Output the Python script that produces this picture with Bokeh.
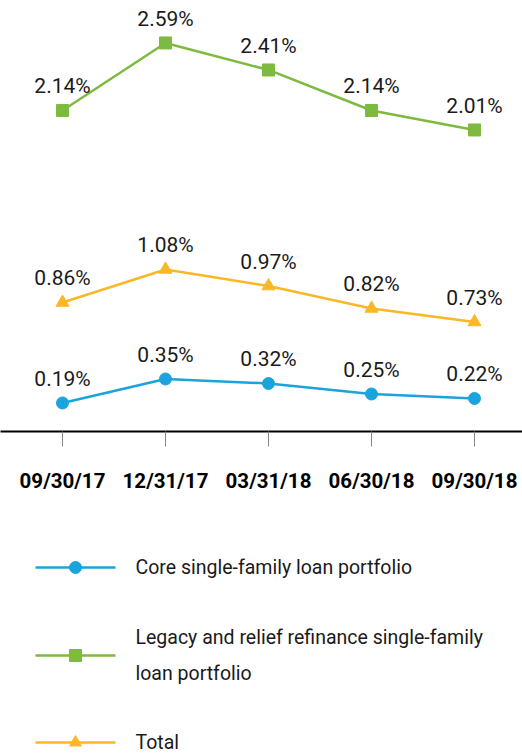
from bokeh.plotting import figure
from bokeh.layouts import column
from bokeh.models import Range1d, FixedTicker
from bokeh.core.properties import value
from bokeh.embed import file_html
from bokeh.resources import INLINE

dates = ["09/30/17", "12/31/17", "03/31/18", "06/30/18", "09/30/18"]
core = [0.19, 0.35, 0.32, 0.25, 0.22]
legacy = [2.14, 2.59, 2.41, 2.14, 2.01]
total = [0.86, 1.08, 0.97, 0.82, 0.73]

series_names = ["Core single-family loan portfolio",
                "Legacy and relief refinance single-family\nloan portfolio",
                "Total"]
colors = ["#1ba3de", "#7dba3f", "#fbb726"]
markers = ["circle", "square", "triangle"]

FONT = "Roboto"
xs = list(range(len(dates)))

p = figure(width=522, height=510, output_backend="svg", toolbar_location=None,
           x_range=Range1d(-0.602, 4.466), y_range=Range1d(0, 2.873),
           min_border_left=0, min_border_right=0, min_border_top=0, min_border_bottom=79)
p.outline_line_color = None
p.xgrid.visible = False
p.ygrid.visible = False
p.yaxis.visible = False
p.background_fill_color = "white"

xa = p.xaxis[0]
xa.ticker = FixedTicker(ticks=xs)
xa.major_label_overrides = {i: d for i, d in enumerate(dates)}
xa.axis_line_color = "black"
xa.axis_line_width = 2
xa.major_tick_line_color = "#888888"
xa.major_tick_line_width = 1
xa.major_tick_in = 0
xa.major_tick_out = 15
xa.minor_tick_line_color = None
xa.major_label_standoff = 22
xa.major_label_text_font = FONT
xa.major_label_text_font_style = "bold"
xa.major_label_text_font_size = "20.5px"
xa.major_label_text_color = "black"

for vals, col, mk in zip([core, legacy, total], colors, markers):
    p.line(xs, vals, line_color=col, line_width=2.5)
    p.scatter(xs, vals, marker=mk, size=12 if mk != "triangle" else 13,
              fill_color=col, line_color=col)
    p.text(xs, vals, text=[f"{v:.2f}%" for v in vals], text_align="center",
           text_baseline="alphabetic", y_offset=-24, text_font=value(FONT),
           text_font_size="21px", text_color="#1a1a1a")

# Legend figure
lg = figure(width=522, height=243, output_backend="svg", toolbar_location=None,
            x_range=Range1d(0, 522), y_range=Range1d(243, 0),
            min_border_left=0, min_border_right=0, min_border_top=0, min_border_bottom=0)
lg.outline_line_color = None
lg.axis.visible = False
lg.grid.visible = False
ly = [57, 145, 232]
for name, col, mk, yy in zip(series_names, colors, markers, ly):
    lg.line([35, 115], [yy, yy], line_color=col, line_width=2.5)
    lg.scatter([75], [yy], marker=mk, size=12, fill_color=col, line_color=col)
    lg.text([135], [yy], text=[name], text_baseline="middle", text_align="left",
            text_font=value(FONT), text_font_size="19.5px", text_color="#1a1a1a",
            text_line_height=1.55)

layout = column(p, lg, spacing=0)
open("out.html", "w").write(file_html(layout, INLINE))
